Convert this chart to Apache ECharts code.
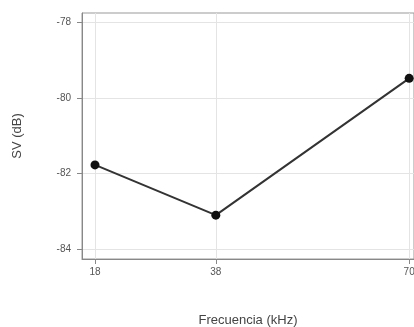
<!DOCTYPE html>
<html>
<head>
<meta charset="utf-8">
<script src="https://cdn.jsdelivr.net/npm/echarts@6/dist/echarts.min.js"></script>
<style>
html,body{margin:0;padding:0;background:#fff;}
#c{width:414px;height:327px;}
</style>
</head>
<body>
<div id="c"></div>
<script>
const freqs = [18, 38, 70];
const svValues = [-81.77, -83.10, -79.48];
const xTicks = [18, 38, 70];
const yTicks = [-84, -82, -80, -78];

const chart = echarts.init(document.getElementById('c'), null, {renderer: 'canvas'});
const labelStyle = {color: '#555', fontSize: 10, fontFamily: 'Liberation Sans, Arial, sans-serif'};
chart.setOption({
  animation: false,
  backgroundColor: '#fff',
  grid: {left: 82, top: 13, right: 0, bottom: 68, show: true, borderColor: '#999', borderWidth: 1, outerBoundsMode: 'none', containLabel: false},
  xAxis: {
    type: 'value', min: 15.85, max: 70.8,
    name: 'Frecuencia (kHz)', nameLocation: 'middle', nameGap: 55,
    nameTextStyle: {color: '#444', fontSize: 13, fontFamily: 'Liberation Sans, Arial, sans-serif'},
    axisLine: {show: true, lineStyle: {color: '#888', width: 1}},
    axisTick: {show: true, customValues: xTicks, length: 5, lineStyle: {color: '#888'}},
    axisLabel: Object.assign({customValues: xTicks, margin: 8, showMinLabel: true, showMaxLabel: true}, labelStyle),
    splitLine: {show: true, lineStyle: {color: '#e4e4e4', width: 1}}
  },
  yAxis: {
    type: 'value', min: -84.26, max: -77.75,
    name: 'SV (dB)', nameLocation: 'middle', nameGap: 58,
    nameTextStyle: {color: '#444', fontSize: 13, fontFamily: 'Liberation Sans, Arial, sans-serif'},
    axisLine: {show: true, lineStyle: {color: '#888', width: 1}},
    axisTick: {show: true, customValues: yTicks, length: 5, lineStyle: {color: '#888'}},
    axisLabel: Object.assign({customValues: yTicks, margin: 11}, labelStyle),
    splitLine: {show: true, lineStyle: {color: '#e4e4e4', width: 1}}
  },
  series: [{
    type: 'line',
    data: freqs.map((f, i) => [f, svValues[i]]),
    symbol: 'circle', symbolSize: 9,
    itemStyle: {color: '#111'},
    lineStyle: {color: '#333', width: 2}
  }]
});
</script>
</body>
</html>
